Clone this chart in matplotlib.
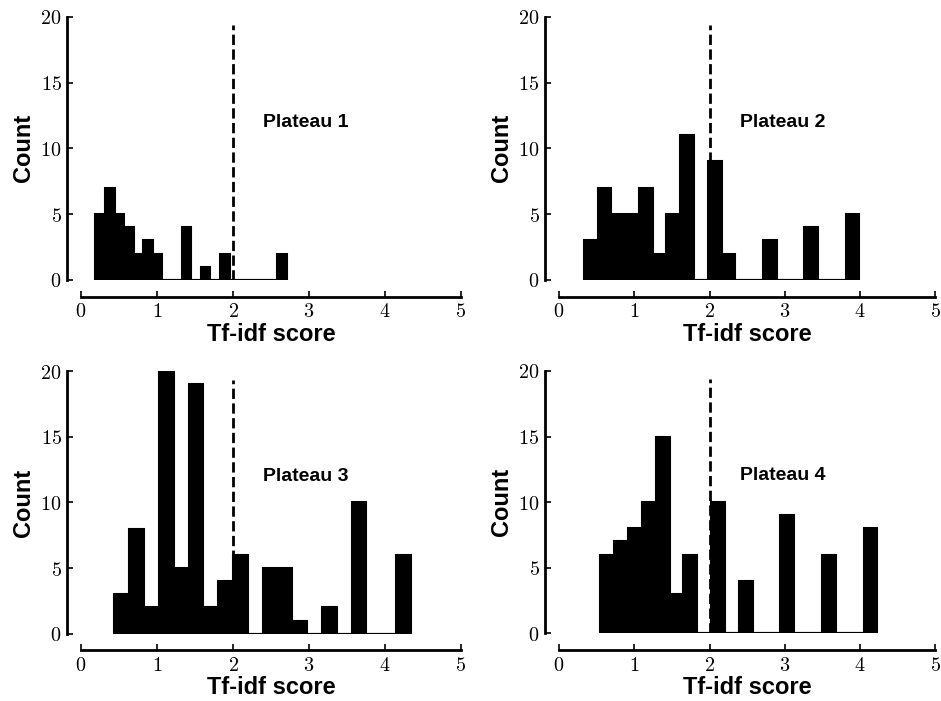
import numpy as np
import matplotlib
matplotlib.use("Agg")
import matplotlib.pyplot as plt
from matplotlib.ticker import FixedLocator, FixedFormatter

plt.rcParams["mathtext.fontset"] = "cm"

# ---- data (counts per bin, 20 equal bins over each data range) ----
titles = ["Plateau 1", "Plateau 2", "Plateau 3", "Plateau 4"]
p1_range = (0.19, 2.71)
p1_counts = [5, 7, 5, 4, 2, 3, 2, 0, 0, 4, 0, 1, 0, 2, 0, 0, 0, 0, 0, 2]
p2_range = (0.33, 3.99)
p2_counts = [3, 7, 5, 5, 7, 2, 5, 11, 0, 9, 2, 0, 0, 3, 0, 0, 4, 0, 0, 5]
p3_range = (0.44, 4.34)
p3_counts = [3, 8, 2, 20, 5, 19, 2, 4, 6, 0, 5, 5, 1, 0, 2, 0, 10, 0, 0, 6]
p4_range = (0.55, 4.23)
p4_counts = [6, 7, 8, 10, 15, 3, 6, 0, 10, 0, 4, 0, 0, 9, 0, 0, 6, 0, 0, 8]
threshold = 2.0
x_ticks = [0, 1, 2, 3, 4, 5]
y_ticks = [0, 5, 10, 15, 20]

ranges = [p1_range, p2_range, p3_range, p4_range]
counts = [p1_counts, p2_counts, p3_counts, p4_counts]

fig = plt.figure(figsize=(9.41, 7.01), dpi=100)
positions = [
    [0.0861, 0.6006, 0.4038, 0.3756],
    [0.5940, 0.6006, 0.4000, 0.3756],
    [0.0861, 0.0960, 0.4038, 0.3746],
    [0.5940, 0.0966, 0.4000, 0.3742],
]
label_font = "Liberation Sans"

for pos, title, rng, cnt in zip(positions, titles, ranges, counts):
    ax = fig.add_axes(pos)
    edges = np.linspace(rng[0], rng[1], len(cnt) + 1)
    centers = 0.5 * (edges[:-1] + edges[1:])
    ax.hist(centers, bins=edges, weights=cnt, histtype="stepfilled",
            facecolor="black", edgecolor="black", linewidth=1.5)
    ax.axvline(threshold, ymin=0, ymax=0.968, color="black", ls="--", lw=2)
    ax.text(2.4, 12, title, fontsize=14, fontweight="bold",
            family=label_font, va="center", ha="left")
    ax.set_xlim(0, 5)
    ax.set_ylim(0, 20)
    for s in ["top", "right"]:
        ax.spines[s].set_visible(False)
    ax.spines["left"].set_position(("outward", 10))
    ax.spines["bottom"].set_position(("outward", 12))
    ax.spines["left"].set_bounds(0, 20)
    ax.spines["bottom"].set_bounds(0, 5)
    for s in ["left", "bottom"]:
        ax.spines[s].set_linewidth(2)
    ax.tick_params(direction="in", length=4, width=1.2, pad=4, labelsize=14.5)
    ax.xaxis.set_major_locator(FixedLocator(x_ticks))
    ax.yaxis.set_major_locator(FixedLocator(y_ticks))
    ax.xaxis.set_major_formatter(FixedFormatter([f"${t}$" for t in x_ticks]))
    ax.yaxis.set_major_formatter(FixedFormatter([f"${t}$" for t in y_ticks]))
    ax.set_xlabel("Tf-idf score", fontsize=17, fontweight="bold",
                  family=label_font, labelpad=1)
    ax.set_ylabel("Count", fontsize=17, fontweight="bold",
                  family=label_font, labelpad=4)

fig.savefig("out.png", dpi=100)
